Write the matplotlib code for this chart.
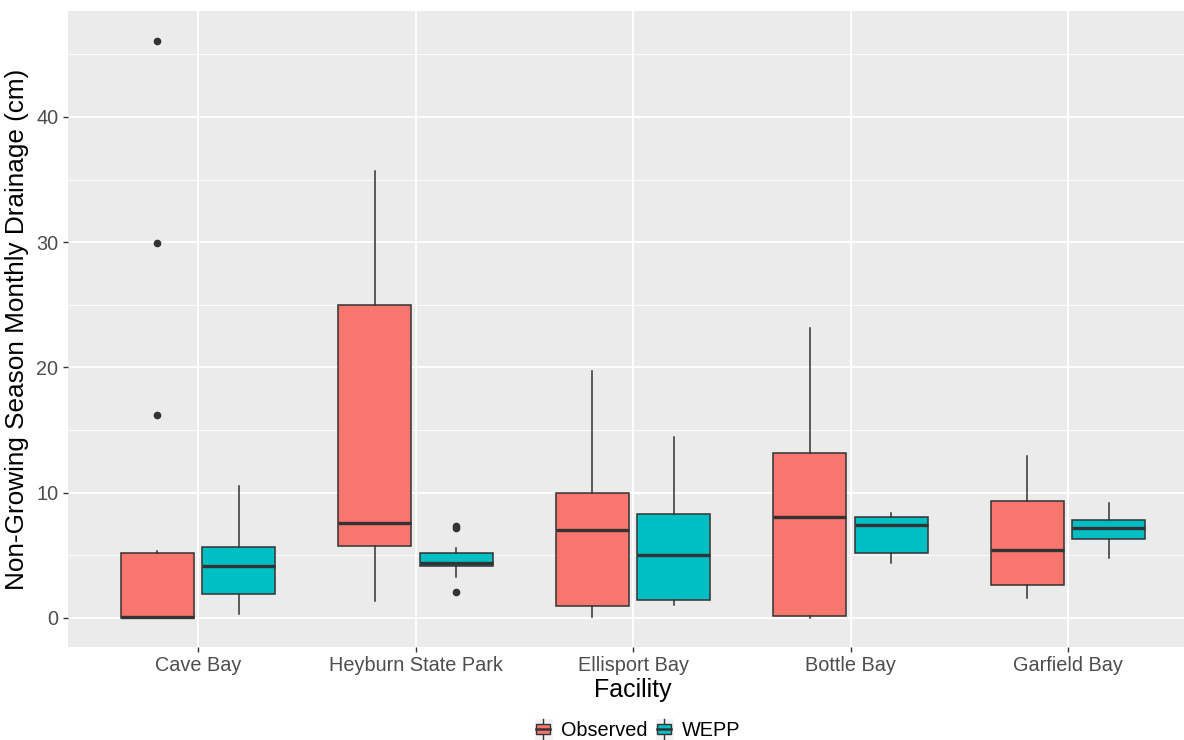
import matplotlib
matplotlib.use("Agg")
import matplotlib.pyplot as plt
from matplotlib.patches import Rectangle
from matplotlib.lines import Line2D
from matplotlib.legend_handler import HandlerBase

plt.rcParams["font.family"] = ["Liberation Sans", "DejaVu Sans"]

# Facilities along the x axis
facilities = ["Cave Bay", "Heyburn State Park", "Ellisport Bay", "Bottle Bay", "Garfield Bay"]
groups = ["Observed", "WEPP"]
group_colors = ["#F8766D", "#00BFC4"]

# Five-number summaries per facility: (lower whisker, Q1, median, Q3, upper whisker)
observed_stats = [
    (0.0, 0.0, 0.1, 5.15, 5.35),
    (1.33, 5.72, 7.6, 24.95, 35.7),
    (0.05, 0.98, 7.03, 10.0, 19.73),
    (0.0, 0.19, 8.04, 13.2, 23.14),
    (1.59, 2.65, 5.45, 9.31, 12.96),
]
wepp_stats = [
    (0.3, 1.9, 4.18, 5.66, 10.5),
    (3.26, 4.12, 4.39, 5.19, 5.58),
    (1.06, 1.46, 5.05, 8.3, 14.42),
    (4.36, 5.21, 7.43, 8.09, 8.36),
    (4.76, 6.31, 7.21, 7.83, 9.15),
]
# Outlying months
observed_outliers = [[16.22, 29.9, 46.1], [], [], [], []]
wepp_outliers = [[], [2.05, 7.22, 7.38], [], [], []]

y_ticks = [0, 10, 20, 30, 40]

fig = plt.figure(figsize=(11.84, 7.4), dpi=100)
ax = fig.add_axes([67.5 / 1184, 93 / 740, 1131 / 1184, 636 / 740])
ax.set_facecolor("#EBEBEB")

edge = "#333333"
box_w = 0.3375
offsets = [-0.1875, 0.1875]


def to_bxp(stats, fliers):
    out = []
    for (lo, q1, med, q3, hi), fl in zip(stats, fliers):
        out.append(dict(whislo=lo, q1=q1, med=med, q3=q3, whishi=hi, fliers=fl))
    return out


for g, (stats, fliers) in enumerate([(observed_stats, observed_outliers), (wepp_stats, wepp_outliers)]):
    positions = [i + 1 + offsets[g] for i in range(len(facilities))]
    ax.bxp(
        to_bxp(stats, fliers),
        positions=positions,
        widths=box_w,
        patch_artist=True,
        showcaps=False,
        boxprops=dict(facecolor=group_colors[g], edgecolor=edge, linewidth=1.1),
        medianprops=dict(color=edge, linewidth=2.4, solid_capstyle="butt"),
        whiskerprops=dict(color=edge, linewidth=1.1),
        flierprops=dict(marker="o", markerfacecolor=edge, markeredgecolor=edge, markersize=4.5),
        manage_ticks=False,
        zorder=3,
    )

ax.set_xlim(0.4, 5.6)
ax.set_ylim(-2.32, 48.46)
ax.set_xticks(range(1, len(facilities) + 1))
ax.set_xticklabels(facilities)
ax.set_yticks(y_ticks)
ax.set_yticks([5, 15, 25, 35, 45], minor=True)

ax.grid(which="major", color="white", linewidth=1.3, zorder=0)
ax.grid(which="minor", axis="y", color="white", linewidth=0.6, zorder=0)
ax.set_axisbelow(True)
for s in ax.spines.values():
    s.set_visible(False)
ax.tick_params(axis="both", which="major", length=3.5, width=1.0, color="#333333",
               labelsize=14.3, labelcolor="#4D4D4D", pad=3)
ax.tick_params(axis="y", which="minor", length=0)

ax.set_xlabel("Facility", fontsize=18, color="black", labelpad=2)
ax.set_ylabel("Non-Growing Season Monthly Drainage (cm)", fontsize=18.8, color="black", labelpad=5)


class BoxKeyHandler(HandlerBase):
    def create_artists(self, legend, orig_handle, xdescent, ydescent, width, height, fontsize, trans):
        x0, y0 = -xdescent, -ydescent
        bg = Rectangle((x0, y0 - 2), width, height + 4, facecolor="#F2F2F2", edgecolor="white",
                       linewidth=1.0, transform=trans)
        cx = x0 + width / 2
        bw = width * 0.75
        bh = height * 0.6
        by = y0 + (height - bh) / 2
        whisk = Line2D([cx, cx], [y0 - 1, y0 + height + 1], color=edge, linewidth=1.0, transform=trans)
        box = Rectangle((cx - bw / 2, by), bw, bh, facecolor=orig_handle.get_facecolor(),
                        edgecolor=edge, linewidth=1.0, transform=trans)
        med = Line2D([cx - bw / 2, cx + bw / 2], [y0 + height / 2] * 2, color=edge,
                     linewidth=1.8, transform=trans)
        return [bg, whisk, box, med]


handles = [Rectangle((0, 0), 1, 1, facecolor=c) for c in group_colors]
fig.legend(handles, groups, loc="center", bbox_to_anchor=(637 / 1184, 10 / 740),
           ncol=2, frameon=False, fontsize=14.3, handlelength=0.95, handleheight=0.95,
           handletextpad=0.4, columnspacing=0.4,
           handler_map={Rectangle: BoxKeyHandler()})

fig.savefig("out.png", dpi=100)
